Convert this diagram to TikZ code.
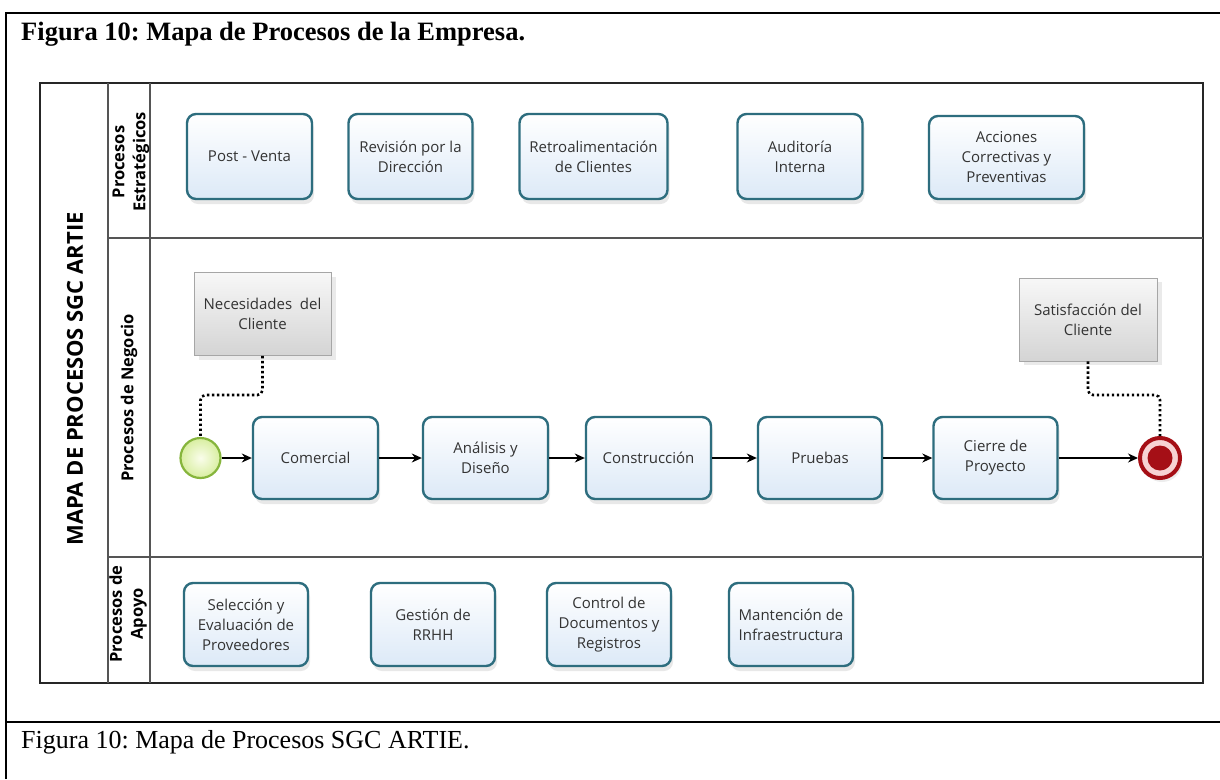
\documentclass[tikz,border=0pt]{standalone}
\usepackage{fontspec}
\setmainfont{Liberation Serif}
\newfontfamily\dgfont{Open Sans}
\usetikzlibrary{shadows,arrows.meta}
\frenchspacing

\definecolor{procedge}{HTML}{2D6D7E}
\definecolor{procfill}{HTML}{DCE9F7}
\definecolor{notefill}{HTML}{D4D4D4}
\definecolor{startedge}{HTML}{86B53C}
\definecolor{startin}{HTML}{FAFDEB}
\definecolor{startout}{HTML}{D8EEA0}
\definecolor{enddark}{HTML}{A50F16}
\definecolor{endpink}{HTML}{F7D3D3}
\definecolor{lanegray}{HTML}{555555}
\definecolor{txtgray}{HTML}{333333}

\tikzset{
  procbox/.style={draw=procedge, line width=2.4pt, rounded corners=9pt,
    top color=white, bottom color=procfill, text=txtgray,
    align=center, font=\dgfont\fontsize{15}{20}\selectfont,
    drop shadow={opacity=0.18, shadow xshift=2pt, shadow yshift=-5pt}},
  notebox/.style={draw=gray!70, line width=0.8pt,
    top color=gray!6, bottom color=notefill, text=txtgray,
    align=center, font=\dgfont\fontsize{15}{20}\selectfont,
    drop shadow={opacity=0.16, shadow xshift=5pt, shadow yshift=-4pt}},
  flow/.style={line width=1.3pt, -{Stealth[length=10pt,width=9pt]}},
  assoc/.style={line width=2.6pt, dash pattern=on 2.4pt off 2.6pt, rounded corners=5pt},
  lanelabel/.style={rotate=90, align=center, font=\dgfont\bfseries\fontsize{16.5}{21}\selectfont},
  laneline/.style={draw=lanegray, line width=1.2pt}
}

\begin{document}
\begin{tikzpicture}[x=1pt, y=-1pt]
\useasboundingbox (0,0) rectangle (1220,779);
\fill[white] (0,0) rectangle (1220,779);

% surrounding table rules
\draw[line width=2.6pt] (6,779) -- (6,13) -- (1220,13);
\draw[line width=2.6pt] (6,722) -- (1220,722);

% heading and caption
\node[anchor=base west, inner sep=0pt, font=\bfseries\fontsize{26.5}{30}\selectfont] (title) at (21,40) {Figura 10: Mapa de Procesos de la Empresa.};
\node[anchor=base west, inner sep=0pt, font=\fontsize{26}{30}\selectfont] (caption) at (21,748) {Figura 10: Mapa de Procesos SGC ARTIE.};

% pool and lanes
\draw[line width=1.4pt, draw=black!85] (40,83) rectangle (1203,683);
\draw[laneline] (108,83) -- (108,683);
\draw[laneline] (150,83) -- (150,683);
\draw[laneline] (108,238) -- (1203,238);
\draw[laneline] (108,557) -- (1203,557);

\node[rotate=90, font=\dgfont\bfseries\fontsize{22}{26}\selectfont] (pool) at (75,379) {MAPA DE PROCESOS SGC ARTIE};
\node[lanelabel] (lane1) at (131,162) {Procesos\\Estratégicos};
\node[lanelabel] (lane2) at (129,398) {Procesos de Negocio};
\node[lanelabel] (lane3) at (128,614) {Procesos de\\Apoyo};

% strategic processes
\node[procbox, minimum width=125pt, minimum height=85pt] (postventa) at (249.5,156.5) {Post - Venta};
\node[procbox, minimum width=124pt, minimum height=85pt] (revision) at (410.5,156.5) {Revisión por la\\Dirección};
\node[procbox, minimum width=148pt, minimum height=85pt] (retro) at (593.5,156.5) {Retroalimentación\\de Clientes};
\node[procbox, minimum width=125pt, minimum height=85pt] (auditoria) at (800,156.5) {Auditoría\\Interna};
\node[procbox, minimum width=155pt, minimum height=83pt] (acciones) at (1006.5,157.5) {Acciones\\Correctivas y\\Preventivas};

% business flow
\node[notebox, minimum width=137pt, minimum height=83pt] (necesidades) at (262.5,314) {Necesidades\ \ del\\Cliente};
\node[notebox, minimum width=138pt, minimum height=83pt] (satisfaccion) at (1088,319.5) {Satisfacción del\\Cliente};

\node[circle, draw=startedge, line width=2.2pt, inner color=startin, outer color=startout,
      minimum size=40pt, inner sep=0pt] (start) at (200.5,458) {};
\node[procbox, minimum width=125pt, minimum height=82pt] (comercial) at (315.5,458) {Comercial};
\node[procbox, minimum width=125pt, minimum height=82pt] (analisis) at (485.5,458) {Análisis y\\Diseño};
\node[procbox, minimum width=125pt, minimum height=82pt] (construccion) at (648.5,458) {Construcción};
\node[procbox, minimum width=124pt, minimum height=82pt] (pruebas) at (820,458) {Pruebas};
\node[procbox, minimum width=124pt, minimum height=82pt] (cierre) at (995.5,458) {Cierre de\\Proyecto};
\node[circle, draw=enddark, line width=4pt, fill=endpink, minimum size=40pt, inner sep=0pt,
      drop shadow={opacity=0.14, shadow xshift=2pt, shadow yshift=-4pt}] (fin) at (1160,458) {};
\fill[enddark] (fin.center) circle (12.5);

\draw[flow] (start) -- (comercial);
\draw[flow] (comercial) -- (analisis);
\draw[flow] (analisis) -- (construccion);
\draw[flow] (construccion) -- (pruebas);
\draw[flow] (pruebas) -- (cierre);
\draw[flow] (cierre) -- (fin);

\draw[assoc] (necesidades.south) -- (262.5,395) -| (start.north);
\draw[assoc] (satisfaccion.south) -- (1088,395) -| (fin.north);

% support processes
\node[procbox, minimum width=124pt, minimum height=83pt] (seleccion) at (246,624.5) {Selección y\\Evaluación de\\Proveedores};
\node[procbox, minimum width=124pt, minimum height=83pt] (rrhh) at (433,624.5) {Gestión de\\RRHH};
\node[procbox, minimum width=124pt, minimum height=83pt] (control) at (609,624.5) {Control de\\Documentos y\\Registros};
\node[procbox, minimum width=124pt, minimum height=83pt] (mantencion) at (791,624.5) {Mantención de\\Infraestructura};
\end{tikzpicture}
\end{document}
